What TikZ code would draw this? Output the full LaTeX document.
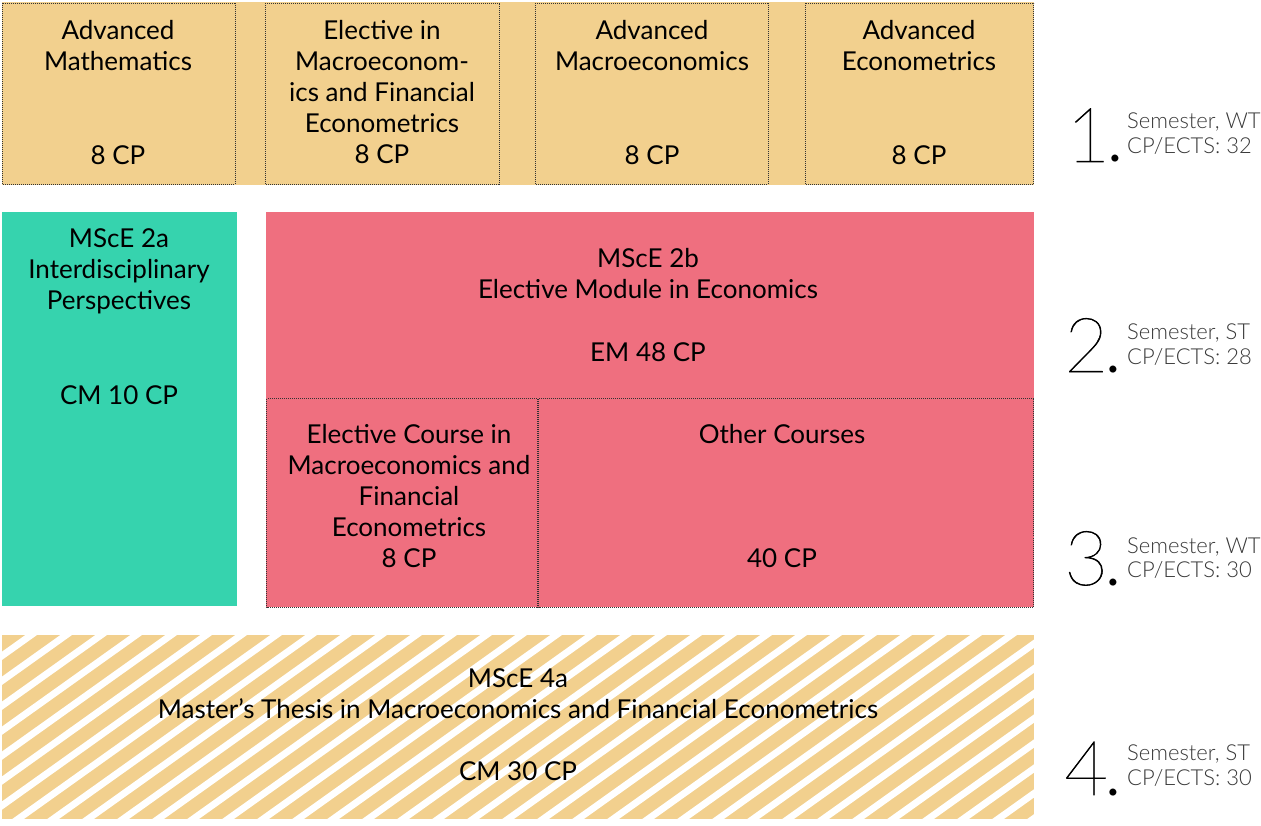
\documentclass[tikz,border=0pt]{standalone}
\usepackage{fontspec}
\setmainfont{Lato}
\newfontfamily\latolight{Lato Light}
\newfontfamily\latothin{Lato Thin}[RawFeature={embolden=0.7}]
\definecolor{ocre}{HTML}{F2D08E}
\definecolor{teal2}{HTML}{36D3AE}
\definecolor{pink2}{HTML}{EF6F7F}
\definecolor{semgray}{HTML}{383838}
\begin{document}
\begin{tikzpicture}[x=1pt,y=-1pt,
  dotbox/.style={draw=black!80, line width=0.8pt, dash pattern=on 1pt off 1pt},
  txt/.style={anchor=base, inner sep=0pt, font=\fontsize{26}{31}\selectfont},
  semnum/.style={anchor=base west, inner sep=0pt, font=\latothin\fontsize{76}{76}\selectfont},
  semtxt/.style={anchor=base west, inner sep=0pt, text=semgray, font=\latolight\fontsize{22}{24}\selectfont}]
\newcommand\semdot{\kern-4pt{\latolight.}}
\useasboundingbox (0,0) rectangle (1261,826);
% top band
\fill[ocre] (2,2) rectangle (1034,185);
\draw[dotbox] (2.5,3) rectangle (235,184.5);
\draw[dotbox] (265.5,3) rectangle (499,184.5);
\draw[dotbox] (535.5,3) rectangle (768,184.5);
\draw[dotbox] (805.5,3) rectangle (1033.5,184.5);
% row 2/3
\fill[teal2] (2,212) rectangle (237,606);
\fill[pink2] (266,212) rectangle (1034,607);
\draw[dotbox] (266.5,398.5) rectangle (537,607);
\draw[dotbox] (538.5,398.5) rectangle (1033.5,607);
% hatched
\begin{scope}
\clip (2,635) rectangle (1034,819);
\fill[ocre] (2,635) rectangle (1034,819);
\foreach \k in {-1,...,38} {
  \draw[white, line width=6.8pt] (41+35*\k,628) -- ({41+35*\k-275},{628+275*0.713});
}
\end{scope}
% texts top row
\node[txt] (a1) at (118,40) {Advanced};
\node[txt] (a2) at (118,71) {Mathematics};
\node[txt] (a3) at (118,165) {8 CP};
\node[txt] (b1) at (382,40) {Elective in};
\node[txt] (b2) at (382,71) {Macroeconom-};
\node[txt] (b3) at (382,102) {ics and Financial};
\node[txt] (b4) at (382,133) {Econometrics};
\node[txt] (b5) at (382,164) {8 CP};
\node[txt] (c1) at (652,40) {Advanced};
\node[txt] (c2) at (652,71) {Macroeconomics};
\node[txt] (c3) at (652,165) {8 CP};
\node[txt] (d1) at (919,40) {Advanced};
\node[txt] (d2) at (919,71) {Econometrics};
\node[txt] (d3) at (919,165) {8 CP};
% teal
\node[txt] (e1) at (119,248) {MScE 2a};
\node[txt] (e2) at (119,279) {Interdisciplinary};
\node[txt] (e3) at (119,310) {Perspectives};
\node[txt] (e4) at (119,404) {CM 10 CP};
% pink
\node[txt] (f1) at (648,268) {MScE 2b};
\node[txt] (f2) at (648,299) {Elective Module in Economics};
\node[txt] (f3) at (648,361) {EM 48 CP};
\node[txt] (g1) at (409,443) {Elective Course in};
\node[txt] (g2) at (409,474) {Macroeconomics and};
\node[txt] (g3) at (409,505) {Financial};
\node[txt] (g4) at (409,536) {Econometrics};
\node[txt] (g5) at (409,567) {8 CP};
\node[txt] (h1) at (782,443) {Other Courses};
\node[txt] (h2) at (782,567) {40 CP};
% thesis
\node[txt] (i1) at (518,687) {MScE 4a};
\node[txt] (i2) at (518,718) {Master’s Thesis in Macroeconomics and Financial Econometrics};
\node[txt] (i3) at (518,780) {CM 30 CP};
% semesters
\node[semnum] (s1) at (1066,162) {1\semdot};
\node[semtxt] (s1a) at (1127,129) {Semester, WT};
\node[semtxt] (s1b) at (1127,154) {CP/ECTS: 32};
\node[semnum] (s2) at (1064,372) {2\semdot};
\node[semtxt] (s2a) at (1127,339) {Semester, ST};
\node[semtxt] (s2b) at (1127,364) {CP/ECTS: 28};
\node[semnum] (s3) at (1064,585) {3\semdot};
\node[semtxt] (s3a) at (1127,553) {Semester, WT};
\node[semtxt] (s3b) at (1127,577) {CP/ECTS: 30};
\node[semnum] (s4) at (1064,795) {4\semdot};
\node[semtxt] (s4a) at (1127,760) {Semester, ST};
\node[semtxt] (s4b) at (1127,785) {CP/ECTS: 30};
\end{tikzpicture}
\end{document}
